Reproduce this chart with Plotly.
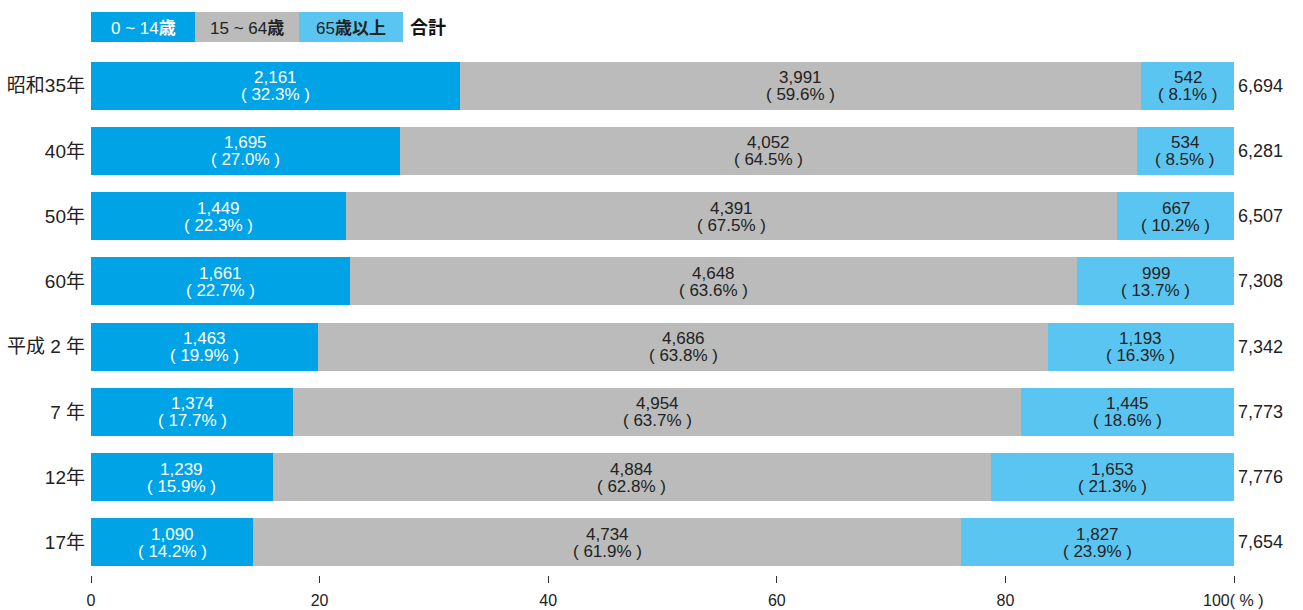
import plotly.graph_objects as go

categories = ["昭和35年", "40年", "50年", "60年", "平成 2 年", "7 年", "12年", "17年"]
young = [2161, 1695, 1449, 1661, 1463, 1374, 1239, 1090]
working = [3991, 4052, 4391, 4648, 4686, 4954, 4884, 4734]
elderly = [542, 534, 667, 999, 1193, 1445, 1653, 1827]
young_pct = [32.3, 27.0, 22.3, 22.7, 19.9, 17.7, 15.9, 14.2]
working_pct = [59.6, 64.5, 67.5, 63.6, 63.8, 63.7, 62.8, 61.9]
elderly_pct = [8.1, 8.5, 10.2, 13.7, 16.3, 18.6, 21.3, 23.9]
totals = [6694, 6281, 6507, 7308, 7342, 7773, 7776, 7654]
series_names = ["0 ~ 14歳", "15 ~ 64歳", "65歳以上"]
x_ticks = [0, 20, 40, 60, 80, 100]

C_BLUE = "#00A4E6"
C_GRAY = "#BBBBBB"
C_LIGHT = "#5BC5F2"
TXT = "#222222"
FONT = "Arial, Liberation Sans, Noto Sans CJK JP, sans-serif"

fig = go.Figure()
series = [
    (series_names[0], young, young_pct, C_BLUE, "white"),
    (series_names[1], working, working_pct, C_GRAY, TXT),
    (series_names[2], elderly, elderly_pct, C_LIGHT, TXT),
]
annotations = []
base = [0.0] * len(categories)
for name, vals, pcts, color, tcol in series:
    fig.add_trace(go.Bar(
        y=categories, x=pcts, name=name, orientation="h",
        marker=dict(color=color, line=dict(width=0)),
        hoverinfo="skip", width=0.735,
    ))
    for i, (cat, v, p) in enumerate(zip(categories, vals, pcts)):
        mid = base[i] + p / 2
        annotations.append(dict(x=mid, y=cat, xref="x", yref="y", text=f"{v:,}",
                                showarrow=False, yshift=8, xanchor="center", yanchor="middle",
                                font=dict(size=17, color=tcol, family=FONT)))
        annotations.append(dict(x=mid, y=cat, xref="x", yref="y", text=f"( {p:.1f}% )",
                                showarrow=False, yshift=-9, xanchor="center", yanchor="middle",
                                font=dict(size=17, color=tcol, family=FONT)))
        base[i] += p

for cat, t in zip(categories, totals):
    annotations.append(dict(
        x=100, y=cat, xref="x", yref="y", text=f"{t:,}", showarrow=False,
        xanchor="left", xshift=2, font=dict(size=18, color=TXT, family=FONT),
    ))

W, H = 1303, 610
L, T = 91, 53
pw, ph = 1143, 522.5
R = W - L - pw
B = H - T - ph

def px(x):
    return (x - L) / pw

def py(y):
    return 1 + (T - y) / ph

shapes = []
leg = [
    (91, 195, C_BLUE, "0 ~ 14<b>歳</b>", "white"),
    (195, 299, C_GRAY, "15 ~ 64<b>歳</b>", TXT),
    (299, 403, C_LIGHT, "65<b>歳以上</b>", TXT),
]
for x0, x1, col, txt, tc in leg:
    shapes.append(dict(type="rect", xref="paper", yref="paper",
                       x0=px(x0), x1=px(x1), y0=py(42), y1=py(12),
                       fillcolor=col, line=dict(width=0), layer="above"))
    annotations.append(dict(x=px((x0 + x1) / 2), y=py(28), xref="paper", yref="paper",
                            text=txt, showarrow=False, xanchor="center", yanchor="middle",
                            font=dict(size=17, color=tc, family=FONT)))
annotations.append(dict(x=px(408), y=py(28), xref="paper", yref="paper",
                        text="<b>合計</b>", showarrow=False, xanchor="left", yanchor="middle",
                        font=dict(size=18, color="#111111", family=FONT)))
annotations.append(dict(x=px(1201), y=py(601), xref="paper", yref="paper",
                        text="100( % )", showarrow=False, xanchor="left", yanchor="middle",
                        font=dict(size=16, color=TXT, family=FONT)))

fig.update_layout(
    barmode="stack",
    width=W, height=H,
    margin=dict(l=L, r=R, t=T, b=B, autoexpand=False),
    paper_bgcolor="white", plot_bgcolor="white",
    showlegend=False,
    font=dict(family=FONT, color=TXT),
    xaxis=dict(range=[0, 100], tickvals=x_ticks,
               ticktext=[str(v) if v != 100 else "" for v in x_ticks],
               ticks="outside", ticklen=7, tickwidth=1, tickcolor="#333333",
               ticklabelstandoff=4,
               showgrid=False, zeroline=False, showline=False, automargin=False,
               tickfont=dict(size=16, color=TXT, family=FONT), fixedrange=True),
    yaxis=dict(autorange="reversed", showgrid=False, zeroline=False, showline=False,
               ticks="", ticklabelstandoff=5, automargin=False,
               tickfont=dict(size=19, color=TXT, family=FONT), fixedrange=True),
    annotations=annotations,
    shapes=shapes,
)

fig.write_html(
    "out.html",
    config={"displayModeBar": False},
    post_script="document.body.style.margin='0';document.body.style.overflow='hidden';",
)
